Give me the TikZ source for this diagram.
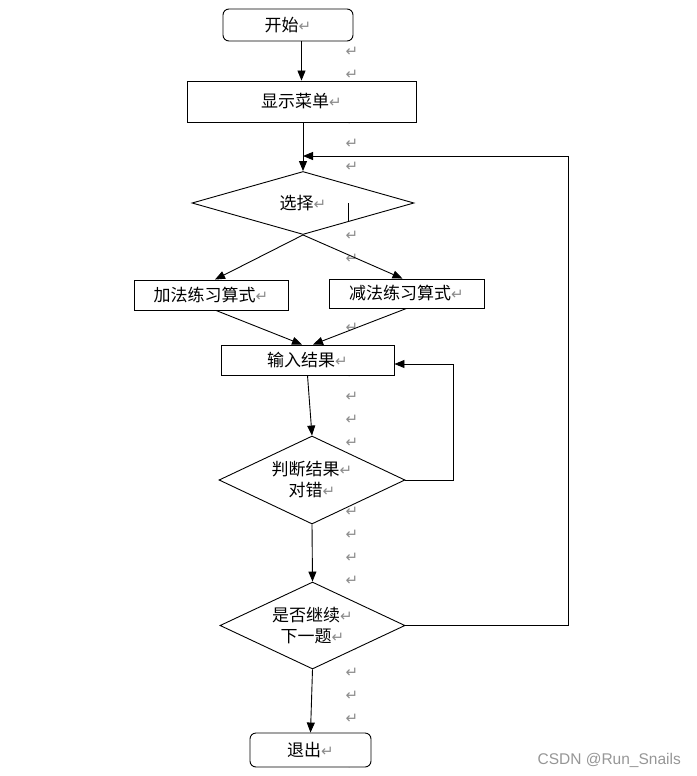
\documentclass[tikz,border=0pt]{standalone}
\usepackage{fontspec}
\usetikzlibrary{arrows.meta,shapes.geometric}
\newfontfamily\cjk{Noto Sans CJK SC}
\newfontfamily\symf{DejaVu Sans}
\newfontfamily\wmf{Liberation Sans}
\definecolor{retgray}{RGB}{140,140,140}
\definecolor{wmgray}{RGB}{150,150,150}
\newcommand\rt{{\color{retgray}\symf\fontsize{15}{15}\selectfont ↵}}
\begin{document}
\begin{tikzpicture}[x=1pt,y=-1pt,
  base/.style={draw=black, line width=0.9pt, fill=white, font=\cjk\fontsize{17}{21}\selectfont, inner sep=0pt, align=center},
  box/.style={base, rectangle},
  term/.style={base, rectangle, rounded corners=6pt},
  dec/.style={base, diamond},
  arr/.style={draw, line width=0.9pt, -{Triangle[length=10pt,width=8pt]}},
  ln/.style={draw, line width=0.9pt},
  retmark/.style={text=retgray, font=\symf\fontsize{15}{15}\selectfont, inner sep=0pt},
]
\useasboundingbox (0,0) rectangle (696,776);

% column of paragraph marks (those hidden behind shapes are left out)
\foreach \k in {0,1,3,4,5,8,9,12,14,15,16,17,20,21,22,23,26,27,28,29,31}
  \node[retmark] (r\k) at (352,{52+23*\k}) {↵};

% nodes
\node[term, minimum width=130pt, minimum height=32pt] (start) at (288,25) {开始\rt};
\node[box, minimum width=229pt, minimum height=41pt] (menu) at (301.5,101.5) {显示菜单\rt};
\node[dec, minimum width=222pt, minimum height=63pt, aspect=3.5] (sel) at (303,203) {选择\rt};
\node[box, minimum width=154pt, minimum height=30pt] (add) at (211,295) {加法练习算式\rt};
\node[box, minimum width=155pt, minimum height=29pt] (sub) at (406.5,293.5) {减法练习算式\rt};
\node[box, minimum width=173pt, minimum height=30pt] (input) at (307.5,360) {输入结果\rt};
\node[dec, minimum width=186pt, minimum height=88pt, aspect=2.1] (judge) at (312,480) {判断结果\rt\\对错\rt};
\node[dec, minimum width=185pt, minimum height=87pt, aspect=2.1] (cont) at (312.5,625.5) {是否继续\rt\\下一题\rt};
\node[term, minimum width=121pt, minimum height=34pt] (quit) at (310.5,750) {退出\rt};

% small stray mark inside the decision
\coordinate (c1) at (348,203);
\coordinate (c2) at (348,222);
\draw[ln] (c1) -- (c2);

% connectors
\draw[arr] (menu.north |- start.south) -- (menu.north);
\draw[arr] (sel.north |- menu.south) -- (sel.north);
\coordinate (loopR) at (568,156);
\draw[arr] (cont.east) -| (loopR) -- (loopR -| sel.north);
\draw[arr] (sel.south) -- ([xshift=4pt]add.north);
\draw[arr] (sel.south) -- ([xshift=-4pt]sub.north);
\draw[arr] ([xshift=5pt]add.south) -- ([xshift=-5.5pt]input.north);
\draw[arr] (sub.south) -- ([xshift=5.5pt]input.north);
\draw[arr] (input.south) -- (judge.north);
\coordinate (loopI) at (453,364);
\draw[arr] (judge.east) -| (loopI) -- (loopI -| input.east);
\draw[arr] (judge.south) -- (cont.north);
\draw[arr] (cont.south) -- (quit.north);

% watermark
\node[text=wmgray, font=\wmf\fontsize{15.5}{15.5}\selectfont, anchor=east, inner sep=0pt] (wm) at (681,760) {CSDN @Run\_Snails};
\end{tikzpicture}
\end{document}
